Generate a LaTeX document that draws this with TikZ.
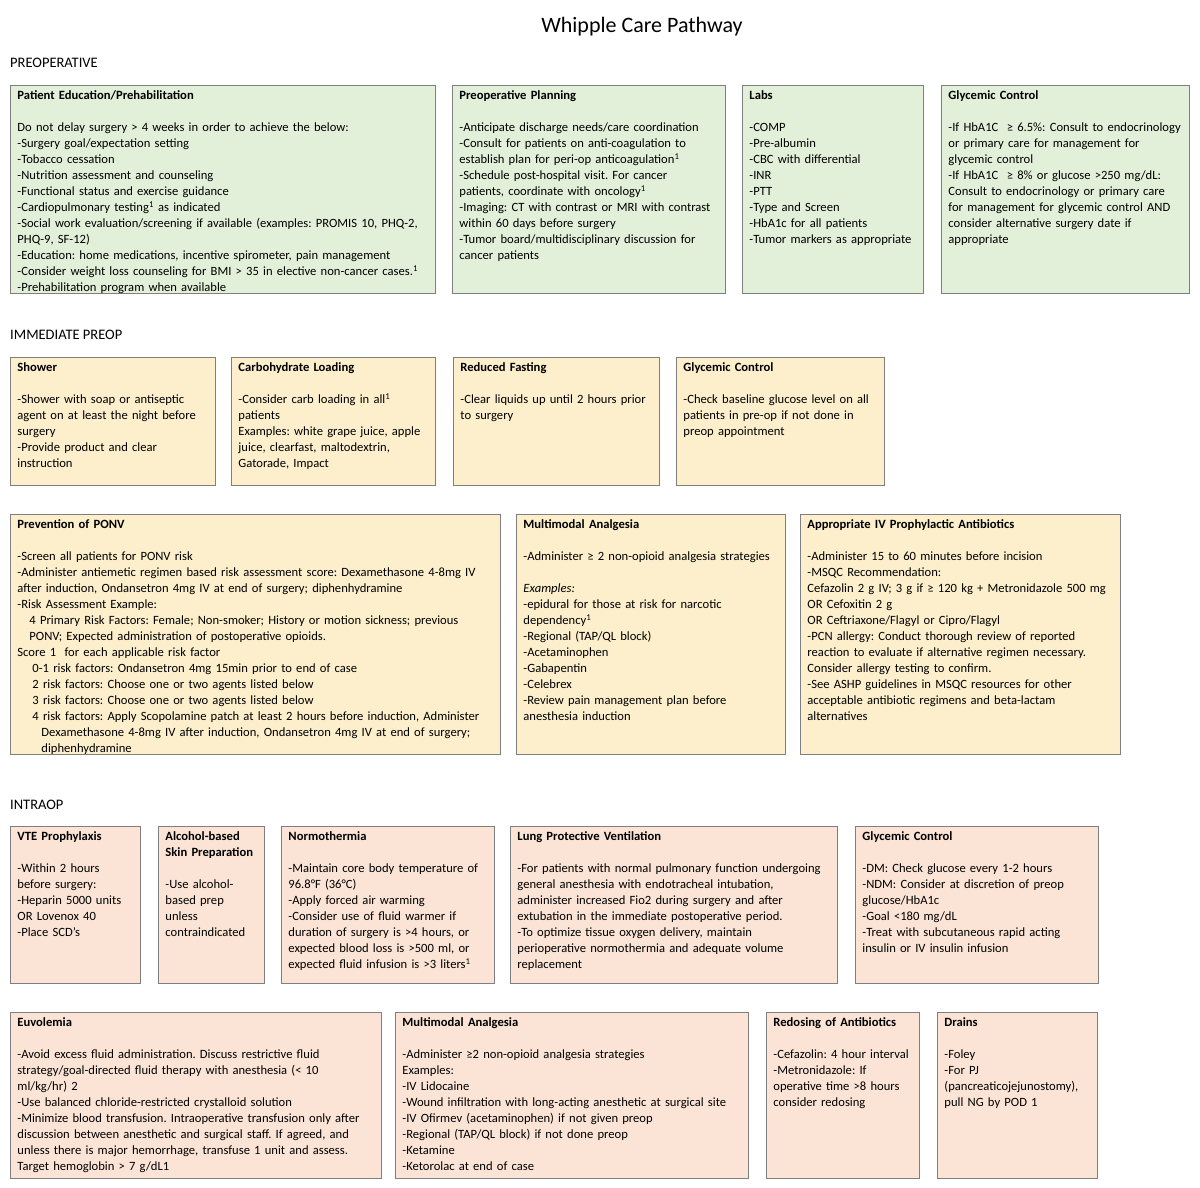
\documentclass[tikz,border=0pt]{standalone}
\usepackage{fontspec}
\setmainfont{Carlito}
\usepackage{tikz}
\usetikzlibrary{positioning}
\usepackage{xcolor}
\definecolor{preopgreen}{HTML}{E2EFD9}
\definecolor{immyellow}{HTML}{FDEFCB}
\definecolor{intrapink}{HTML}{FBE4D6}
\definecolor{cardline}{HTML}{7F7F7F}
\frenchspacing
\hyphenpenalty=10000

\begin{document}
\begin{tikzpicture}[
    x=1pt, y=-1pt,
    card/.style={rectangle, draw=cardline, line width=0.9pt, anchor=north west, inner xsep=7pt, inner ysep=4pt, text height=10pt, align=left, font=\fontsize{12.6}{16}\selectfont},
    green/.style={card, fill=preopgreen},
    yellow/.style={card, fill=immyellow},
    pink/.style={card, fill=intrapink},
    phase/.style={anchor=west, inner sep=0pt, font=\fontsize{14.5}{16}\selectfont}
]
    \useasboundingbox (0,0) rectangle (1200,1188);

    % Title
    \node[font=\fontsize{22}{26}\selectfont] (title) at (642,27) {Whipple Care Pathway};

    % Preoperative
    \node[phase] (preop) at (10,63) {PREOPERATIVE};
    \node[green, text width=411pt, text depth=190pt] (edu) at (10,85) {\textbf{Patient Education/Prehabilitation}\\[16pt]
        Do not delay surgery > 4 weeks in order to achieve the below:\\
        -Surgery goal/expectation setting\\
        -Tobacco cessation\\
        -Nutrition assessment and counseling\\
        -Functional status and exercise guidance\\
        -Cardiopulmonary testing\textsuperscript{1} as indicated\\
        -Social work evaluation/screening if available (examples: PROMIS 10, PHQ-2,\\
        PHQ-9, SF-12)\\
        -Education: home medications, incentive spirometer, pain management\\
        -Consider weight loss counseling for BMI > 35 in elective non-cancer cases.\textsuperscript{1}\\
        -Prehabilitation program when available};
    \node[green, text width=259pt, text depth=190pt] (planning) at (452,85) {\textbf{Preoperative Planning}\\[16pt]
        -Anticipate discharge needs/care coordination\\
        -Consult for patients on anti-coagulation to\\
        establish plan for peri-op anticoagulation\textsuperscript{1}\\
        -Schedule post-hospital visit. For cancer\\
        patients, coordinate with oncology\textsuperscript{1}\\
        -Imaging: CT with contrast or MRI with contrast\\
        within 60 days before surgery\\
        -Tumor board/multidisciplinary discussion for\\
        cancer patients};
    \node[green, text width=167pt, text depth=190pt] (labs) at (742,85) {\textbf{Labs}\\[16pt]
        -COMP\\
        -Pre-albumin\\
        -CBC with differential\\
        -INR\\
        -PTT\\
        -Type and Screen\\
        -HbA1c for all patients\\
        -Tumor markers as appropriate};
    \node[green, text width=234pt, text depth=190pt] (glycpre) at (941,85) {\textbf{Glycemic Control}\\[16pt]
        -If HbA1C\ \ ≥ 6.5\%: Consult to endocrinology\\
        or primary care for management for\\
        glycemic control\\
        -If HbA1C\ \ ≥ 8\% or glucose >250 mg/dL:\\
        Consult to endocrinology or primary care\\
        for management for glycemic control AND\\
        consider alternative surgery date if\\
        appropriate};

    % Immediate preop
    \node[phase] (immediate) at (10,335) {IMMEDIATE PREOP};
    \node[yellow, text width=191pt, text depth=110pt] (shower) at (10,357) {\textbf{Shower}\\[16pt]
        -Shower with soap or antiseptic\\
        agent on at least the night before\\
        surgery\\
        -Provide product and clear\\
        instruction};
    \node[yellow, text width=190pt, text depth=110pt] (carb) at (231,357) {\textbf{Carbohydrate Loading}\\[16pt]
        -Consider carb loading in all\textsuperscript{1}\\
        patients\\
        Examples: white grape juice, apple\\
        juice, clearfast, maltodextrin,\\
        Gatorade, Impact};
    \node[yellow, text width=192pt, text depth=110pt] (fasting) at (453,357) {\textbf{Reduced Fasting}\\[16pt]
        -Clear liquids up until 2 hours prior\\
        to surgery};
    \node[yellow, text width=194pt, text depth=110pt] (glycimm) at (676,357) {\textbf{Glycemic Control}\\[16pt]
        -Check baseline glucose level on all\\
        patients in pre-op if not done in\\
        preop appointment};

    \node[yellow, text width=476pt, text depth=222pt] (ponv) at (10,514) {\textbf{Prevention of PONV}\\[16pt]
        -Screen all patients for PONV risk\\
        -Administer antiemetic regimen based risk assessment score: Dexamethasone 4-8mg IV\\
        after induction, Ondansetron 4mg IV at end of surgery; diphenhydramine\\
        -Risk Assessment Example:\\
        \hspace*{12pt}4 Primary Risk Factors: Female; Non-smoker; History or motion sickness; previous\\
        \hspace*{12pt}PONV; Expected administration of postoperative opioids.\\
        Score 1\ \ for each applicable risk factor\\
        \hspace*{15pt}0-1 risk factors: Ondansetron 4mg 15min prior to end of case\\
        \hspace*{15pt}2 risk factors: Choose one or two agents listed below\\
        \hspace*{15pt}3 risk factors: Choose one or two agents listed below\\
        \hspace*{15pt}4 risk factors: Apply Scopolamine patch at least 2 hours before induction, Administer\\
        \hspace*{24pt}Dexamethasone 4-8mg IV after induction, Ondansetron 4mg IV at end of surgery;\\
        \hspace*{24pt}diphenhydramine};
    \node[yellow, text width=255pt, text depth=222pt] (analgpre) at (516,514) {\textbf{Multimodal Analgesia}\\[16pt]
        -Administer ≥ 2 non-opioid analgesia strategies\\[16pt]
        \textit{Examples:}\\
        -epidural for those at risk for narcotic\\
        dependency\textsuperscript{1}\\
        -Regional (TAP/QL block)\\
        -Acetaminophen\\
        -Gabapentin\\
        -Celebrex\\
        -Review pain management plan before\\
        anesthesia induction};
    \node[yellow, text width=306pt, text depth=222pt] (abx) at (800,514) {\textbf{Appropriate IV Prophylactic Antibiotics}\\[16pt]
        -Administer 15 to 60 minutes before incision\\
        -MSQC Recommendation:\\
        Cefazolin 2 g IV; 3 g if ≥ 120 kg + Metronidazole 500 mg\\
        OR Cefoxitin 2 g\\
        OR Ceftriaxone/Flagyl or Cipro/Flagyl\\
        -PCN allergy: Conduct thorough review of reported\\
        reaction to evaluate if alternative regimen necessary.\\
        Consider allergy testing to confirm.\\
        -See ASHP guidelines in MSQC resources for other\\
        acceptable antibiotic regimens and beta-lactam\\
        alternatives};

    % Intraop
    \node[phase] (intraop) at (10,805) {INTRAOP};
    \node[pink, text width=116pt, text depth=139pt] (vte) at (10,826) {\textbf{VTE Prophylaxis}\\[16pt]
        -Within 2 hours\\
        before surgery:\\
        -Heparin 5000 units\\
        OR Lovenox 40\\
        -Place SCD's};
    \node[pink, text width=92pt, text depth=139pt] (skin) at (158,826) {\textbf{Alcohol-based}\\
        \textbf{Skin Preparation}\\[16pt]
        -Use alcohol-\\
        based prep\\
        unless\\
        contraindicated};
    \node[pink, text width=199pt, text depth=139pt] (normo) at (281,826) {\textbf{Normothermia}\\[16pt]
        -Maintain core body temperature of\\
        96.8°F (36°C)\\
        -Apply forced air warming\\
        -Consider use of fluid warmer if\\
        duration of surgery is >4 hours, or\\
        expected blood loss is >500 ml, or\\
        expected fluid infusion is >3 liters\textsuperscript{1}};
    \node[pink, text width=313pt, text depth=139pt] (lung) at (510,826) {\textbf{Lung Protective Ventilation}\\[16pt]
        -For patients with normal pulmonary function undergoing\\
        general anesthesia with endotracheal intubation,\\
        administer increased Fio2 during surgery and after\\
        extubation in the immediate postoperative period.\\
        -To optimize tissue oxygen delivery, maintain\\
        perioperative normothermia and adequate volume\\
        replacement};
    \node[pink, text width=229pt, text depth=139pt] (glycintra) at (855,826) {\textbf{Glycemic Control}\\[16pt]
        -DM: Check glucose every 1-2 hours\\
        -NDM: Consider at discretion of preop\\
        glucose/HbA1c\\
        -Goal <180 mg/dL\\
        -Treat with subcutaneous rapid acting\\
        insulin or IV insulin infusion};

    \node[pink, text width=357pt, text depth=148pt] (euvo) at (10,1012) {\textbf{Euvolemia}\\[16pt]
        -Avoid excess fluid administration. Discuss restrictive fluid\\
        strategy/goal-directed fluid therapy with anesthesia (< 10\\
        ml/kg/hr) 2\\
        -Use balanced chloride-restricted crystalloid solution\\
        -Minimize blood transfusion. Intraoperative transfusion only after\\
        discussion between anesthetic and surgical staff. If agreed, and\\
        unless there is major hemorrhage, transfuse 1 unit and assess.\\
        Target hemoglobin > 7 g/dL1};
    \node[pink, text width=339pt, text depth=148pt] (analgintra) at (395,1012) {\textbf{Multimodal Analgesia}\\[16pt]
        -Administer ≥2 non-opioid analgesia strategies\\
        Examples:\\
        -IV Lidocaine\\
        -Wound infiltration with long-acting anesthetic at surgical site\\
        -IV Ofirmev (acetaminophen) if not given preop\\
        -Regional (TAP/QL block) if not done preop\\
        -Ketamine\\
        -Ketorolac at end of case};
    \node[pink, text width=139pt, text depth=148pt] (redose) at (766,1012) {\textbf{Redosing of Antibiotics}\\[16pt]
        -Cefazolin: 4 hour interval\\
        -Metronidazole: If\\
        operative time >8 hours\\
        consider redosing};
    \node[pink, text width=146pt, text depth=148pt] (drains) at (937,1012) {\textbf{Drains}\\[16pt]
        -Foley\\
        -For PJ\\
        (pancreaticojejunostomy),\\
        pull NG by POD 1};
\end{tikzpicture}
\end{document}
